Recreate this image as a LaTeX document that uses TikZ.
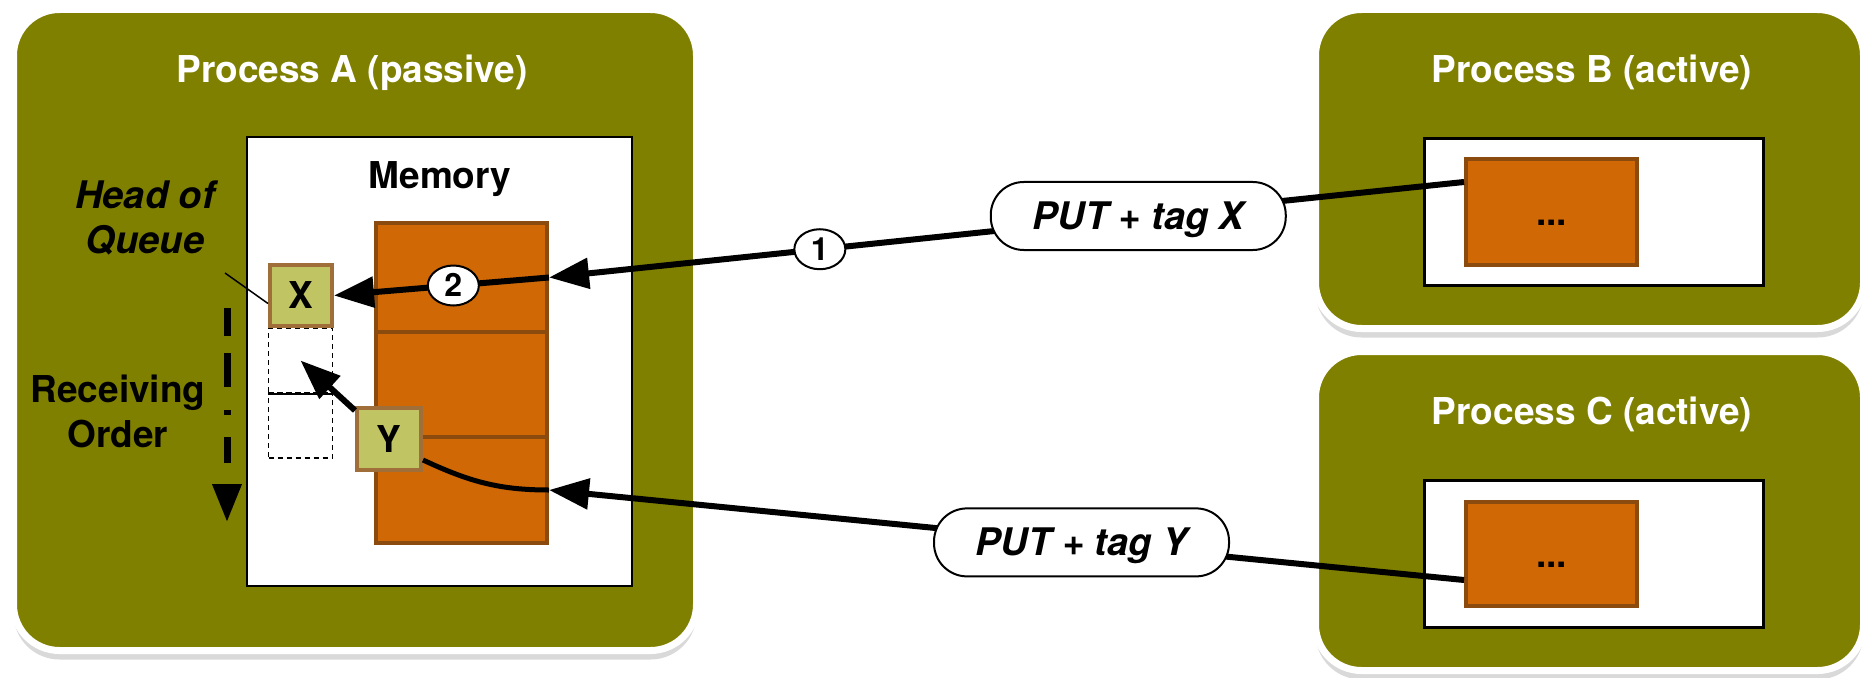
\documentclass[tikz,border=0pt]{standalone}
\usepackage{fontspec}
\setmainfont{TeX Gyre Heros}
\usetikzlibrary{arrows.meta,shapes.geometric,shadows,calc}
\definecolor{olivebg}{HTML}{808000}
\definecolor{memorange}{HTML}{D06806}
\definecolor{membrown}{HTML}{8B4A0E}
\definecolor{tagfill}{HTML}{C0C462}
\definecolor{tagbrown}{HTML}{A06E38}
\begin{document}
\begin{tikzpicture}[x=1pt,y=-1pt,
  procbox/.style={rectangle, rounded corners=46pt, fill=olivebg, draw=white, line width=7pt,
    inner sep=0pt, minimum width=548pt, minimum height=319pt,
    drop shadow={shadow xshift=0pt, shadow yshift=-9pt, opacity=0.3}},
  title/.style={text=white, font=\bfseries\fontsize{37pt}{44pt}\selectfont, inner sep=0pt},
  lbl/.style={text=black, inner sep=0pt},
  membox/.style={rectangle, fill=white, draw=black, line width=2pt, inner sep=0pt},
  whitebox/.style={rectangle, fill=white, draw=black, line width=3pt, inner sep=0pt,
    minimum width=339pt, minimum height=147pt},
  cellbox/.style={rectangle, fill=memorange, draw=membrown, line width=4pt, inner sep=0pt,
    minimum width=171pt, font=\bfseries\fontsize{37pt}{44pt}\selectfont,
    text height=26.6pt, text depth=0pt},
  tagbox/.style={rectangle, fill=tagfill, draw=tagbrown, line width=4pt, inner sep=0pt,
    font=\bfseries\fontsize{37pt}{44pt}\selectfont, text height=26.6pt, text depth=0pt},
  slotbox/.style={rectangle, draw=black, dash pattern=on 5pt off 4pt, line width=1.5pt,
    inner sep=0pt, minimum width=64pt, minimum height=65pt},
  tagmsg/.style={rectangle, rounded corners=33pt, draw=black, fill=white, line width=2pt,
    inner sep=0pt, minimum width=295pt, minimum height=68pt,
    font=\bfseries\itshape\fontsize{38pt}{44pt}\selectfont, text height=27pt, text depth=0pt},
  numball/.style={ellipse, draw=black, fill=white, line width=2pt, inner sep=0pt,
    minimum width=51pt, minimum height=40pt,
    font=\bfseries\fontsize{32pt}{38pt}\selectfont, text height=22.5pt, text depth=0pt},
  conn/.style={draw=black, line width=6pt, -{Triangle[length=40pt,width=30pt]}}
]
\useasboundingbox (0,0) rectangle (1862,677);

% Process boxes
\node[procbox, minimum width=683pt, minimum height=641pt] (pA) at (355,330) {};
\node[procbox] (pB) at (1589.5,169) {};
\node[procbox] (pC) at (1589.5,511) {};

\node[title, anchor=base] (tA) at (352,82) {Process A (passive)};
\node[title, anchor=base] (tB) at (1592,82) {Process B (active)};
\node[title, anchor=base] (tC) at (1592,424) {Process C (active)};

% Process A memory
\node[membox, minimum width=385pt, minimum height=449pt] (mem) at (439.5,361.5) {};
\node[lbl, anchor=base, font=\bfseries\fontsize{37pt}{44pt}\selectfont] (memlbl) at (440,188) {Memory};

\node[cellbox, minimum height=109pt] (c1) at (461.5,277.5) {};
\node[cellbox, minimum height=105pt] (c2) at (461.5,384.5) {};
\node[cellbox, minimum height=106pt] (c3) at (461.5,490) {};

\node[slotbox] (s1) at (300.5,360.5) {};
\node[slotbox] (s2) at (300.5,425.5) {};
\draw[line width=1.5pt] (s1.south west) -- (s1.south east);

\node[tagbox, minimum width=62pt, minimum height=61pt] (X) at (301,295.5) {X};
\node[tagbox, minimum width=64pt, minimum height=62pt] (Y) at (389,439) {Y};

\node[lbl, align=center, font=\bfseries\itshape\fontsize{38pt}{45pt}\selectfont] (hq) at (145,218) {Head of\\Queue};
\node[lbl, align=center, font=\bfseries\fontsize{37pt}{45pt}\selectfont] (recv) at (118,411) {Receiving\\Order};

\coordinate (hqend) at (225,273);
\draw[line width=1.5pt] (hqend) -- ([yshift=-8pt]X.west);

\coordinate (ordtop) at (227,308);
\coordinate (ordtip) at (227,522);
\draw[line width=7pt, dash pattern=on 28pt off 17pt on 34pt off 23pt on 5pt off 22pt on 26pt off 40pt,
  -{Triangle[length=38pt,width=28pt]}] (ordtop) -- (ordtip);

% Processes B and C
\node[whitebox] (wB) at (1594,212) {};
\node[cellbox, minimum height=106pt] (oB) at (1551.5,212) {...};
\node[whitebox] (wC) at (1594,554) {};
\node[cellbox, minimum height=104pt] (oC) at (1551.5,554) {...};

% connectors
\draw[conn] ($(oB.north west)+(0,25)$) -- node[tagmsg, pos=0.356] (putX) {PUT + tag X}
  node[numball, pos=0.704] (n1) {1} (c1.east);
\draw[conn] ($(oC.south west)+(0,-28)$) -- node[tagmsg, pos=0.418] (putY) {PUT + tag Y} (c3.east);
\draw[conn] (c1.east) -- node[numball, pos=0.445] (n2) {2} (X.east);
\draw[conn] (Y.140) -- (s1.center);
\draw[line width=5pt] ([yshift=-21pt]Y.east) to[out=-25, in=180] (c3.east);
\end{tikzpicture}
\end{document}
